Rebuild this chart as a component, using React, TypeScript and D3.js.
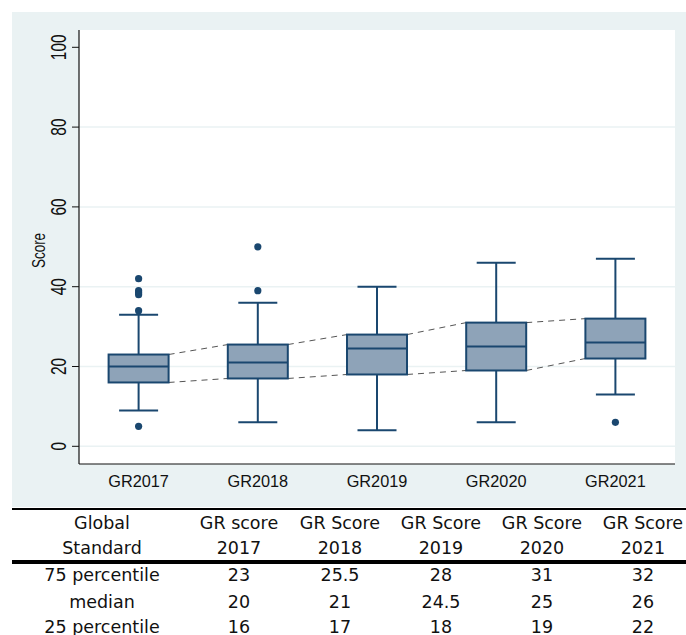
import React from "react";
import * as d3 from "d3";

const categories = ["GR2017", "GR2018", "GR2019", "GR2020", "GR2021"];
const p75 = [23, 25.5, 28, 31, 32];
const median = [20, 21, 24.5, 25, 26];
const p25 = [16, 17, 18, 19, 22];
const lowerWhisker = [9, 6, 4, 6, 13];
const upperWhisker = [33, 36, 40, 46, 47];
const outliers = [
  [42, 39, 38.5, 38, 34, 5],
  [50, 39],
  [],
  [],
  [6],
];
const yTicks = [0, 20, 40, 60, 80, 100];
const gridTicks = [0, 20, 40, 60, 80];

const headerRow1 = ["Global", "GR score", "GR Score", "GR Score", "GR Score", "GR Score"];
const headerRow2 = ["Standard", "2017", "2018", "2019", "2020", "2021"];
const rowLabels = ["75 percentile", "median", "25 percentile"];

const W = 686;
const H = 635;
const plotL = 79;
const plotR = 675;
const plotT = 30;
const plotB = 464;

const navy = "#1a476f";
const boxFill = "#8ea3b8";
const panel = "#eaf2f3";

export default function App() {
  const x = d3.scalePoint<string>().domain(categories).range([plotL, plotR]).padding(0.5);
  const y = d3.scaleLinear().domain([0, 100]).range([446.3, 47.3]);
  const boxW = 60;
  const capW = 39;

  const tableCols = [102, 239, 340, 441, 542, 643];
  const rowsData = [p75, median, p25];
  const rowY = [575, 602, 627];
  const tableFont = "'DejaVu Sans', Verdana, sans-serif";
  const axisFont = "'Liberation Sans', Arial, sans-serif";

  return (
    <svg width={W} height={H} style={{ position: "absolute", left: 0, top: 0, background: "#fff" }}>
      <rect x={12} y={12} width={W - 12} height={507 - 12} fill={panel} />
      <rect x={plotL} y={plotT} width={plotR - plotL} height={plotB - plotT} fill="#fff" />
      {gridTicks.map((t) => (
        <line key={"g" + t} x1={plotL} x2={plotR} y1={y(t)} y2={y(t)} stroke={panel} strokeWidth={1.5} />
      ))}
      {/* dashed connectors */}
      {categories.slice(0, -1).map((c, i) => {
        const x0 = (x(c) as number) + boxW / 2;
        const x1 = (x(categories[i + 1]) as number) - boxW / 2;
        return (
          <g key={"d" + c}>
            <line x1={x0} x2={x1} y1={y(p75[i])} y2={y(p75[i + 1])} stroke="#555" strokeWidth={1} strokeDasharray="6,5" />
            <line x1={x0} x2={x1} y1={y(p25[i])} y2={y(p25[i + 1])} stroke="#555" strokeWidth={1} strokeDasharray="6,5" />
          </g>
        );
      })}
      {categories.map((c, i) => {
        const cx = x(c) as number;
        return (
          <g key={c}>
            <line x1={cx} x2={cx} y1={y(upperWhisker[i])} y2={y(p75[i])} stroke={navy} strokeWidth={2} />
            <line x1={cx} x2={cx} y1={y(p25[i])} y2={y(lowerWhisker[i])} stroke={navy} strokeWidth={2} />
            <line x1={cx - capW / 2} x2={cx + capW / 2} y1={y(upperWhisker[i])} y2={y(upperWhisker[i])} stroke={navy} strokeWidth={2} />
            <line x1={cx - capW / 2} x2={cx + capW / 2} y1={y(lowerWhisker[i])} y2={y(lowerWhisker[i])} stroke={navy} strokeWidth={2} />
            <rect x={cx - boxW / 2} y={y(p75[i])} width={boxW} height={y(p25[i]) - y(p75[i])} fill={boxFill} stroke={navy} strokeWidth={2} />
            <line x1={cx - boxW / 2} x2={cx + boxW / 2} y1={y(median[i])} y2={y(median[i])} stroke={navy} strokeWidth={2} />
            {outliers[i].map((o, j) => (
              <circle key={j} cx={cx} cy={y(o)} r={3.6} fill={navy} />
            ))}
            <text x={cx} y={487} textAnchor="middle" fontFamily={axisFont} fontSize={16.3} fill="#111">{c}</text>
          </g>
        );
      })}
      {/* axes */}
      <line x1={plotL} x2={plotL} y1={plotT} y2={plotB} stroke="#111" strokeWidth={1.2} />
      <line x1={plotL} x2={plotR} y1={plotB} y2={plotB} stroke="#111" strokeWidth={1.2} />
      {yTicks.map((t) => (
        <g key={"t" + t}>
          <line x1={72} x2={plotL} y1={y(t)} y2={y(t)} stroke="#111" strokeWidth={1} />
          <g transform={`translate(58.5, ${y(t)}) scale(1.38, 1) rotate(-90)`}>
            <text x={0} y={0} dy="0.36em" textAnchor="middle" fontFamily={axisFont} fontSize={15.5} fill="#111">{t}</text>
          </g>
        </g>
      ))}
      <g transform={`translate(38, 250.5) scale(1.4, 1) rotate(-90)`}>
        <text x={0} y={0} dy="0.36em" textAnchor="middle" fontFamily={axisFont} fontSize={13.5} fill="#111">Score</text>
      </g>
      {/* table */}
      <line x1={12} x2={W} y1={509} y2={509} stroke="#000" strokeWidth={2.2} />
      <line x1={12} x2={W} y1={562} y2={562} stroke="#000" strokeWidth={4} />
      {headerRow1.map((h, k) => (
        <text key={"h1" + k} x={tableCols[k]} y={523} dy="0.36em" textAnchor="middle" fontFamily={tableFont} fontSize={17.5} fill="#111">{h}</text>
      ))}
      {headerRow2.map((h, k) => (
        <text key={"h2" + k} x={tableCols[k]} y={548} dy="0.36em" textAnchor="middle" fontFamily={tableFont} fontSize={17.5} fill="#111">{h}</text>
      ))}
      {rowLabels.map((r, ri) => (
        <g key={r}>
          <text x={tableCols[0]} y={rowY[ri]} dy="0.36em" textAnchor="middle" fontFamily={tableFont} fontSize={17.5} fill="#111">{r}</text>
          {rowsData[ri].map((v, k) => (
            <text key={k} x={tableCols[k + 1]} y={rowY[ri]} dy="0.36em" textAnchor="middle" fontFamily={tableFont} fontSize={17.5} fill="#111">{String(v)}</text>
          ))}
        </g>
      ))}
    </svg>
  );
}
